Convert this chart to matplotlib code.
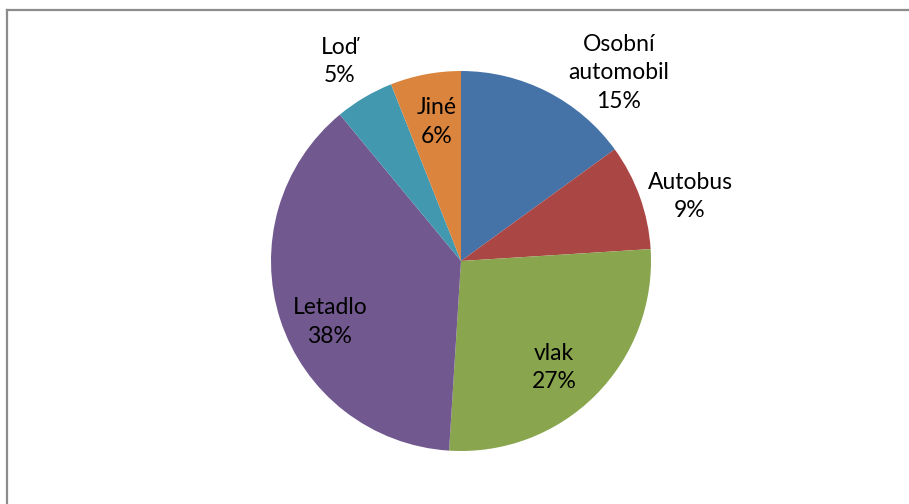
import matplotlib
matplotlib.use("Agg")
import matplotlib.pyplot as plt
from matplotlib.lines import Line2D

# data, clockwise from 12 o'clock
labels = ["Osobní\nautomobil", "Autobus", "vlak", "Letadlo", "Loď", "Jiné"]
shares = [15, 9, 27, 38, 5, 6]
colors = ["#4572A7", "#AA4643", "#89A54E", "#71588F", "#4198AF", "#DB843D"]

# label anchor points, in units of the pie radius
label_pos = [(0.83, 0.99), (1.205, 0.34), (0.49, -0.56),
             (-0.69, -0.32), (-0.64, 1.05), (-0.126, 0.73)]

W, H = 909, 504
fig = plt.figure(figsize=(W / 100, H / 100), dpi=100)

cx, cy, r = 461, 261, 190
ax = fig.add_axes([(cx - r) / W, (H - cy - r) / H, 2 * r / W, 2 * r / H])
ax.pie(shares, colors=colors, startangle=90, counterclock=False,
       radius=1, wedgeprops=dict(linewidth=0))
ax.set_xlim(-1, 1)
ax.set_ylim(-1, 1)
ax.set_aspect("equal")
ax.axis("off")

for lab, val, (x, y) in zip(labels, shares, label_pos):
    ax.text(x, y, f"{lab}\n{val}%", ha="center", va="center",
            fontsize=16.5, family="Lato", linespacing=1.45, clip_on=False)

# frame edges of the cropped chart area
fig.add_artist(Line2D([7 / W, 1], [1 - 10 / H, 1 - 10 / H],
                      color="#8c8c8c", lw=1.6, transform=fig.transFigure))
fig.add_artist(Line2D([7 / W, 7 / W], [0, 1 - 10 / H],
                      color="#8c8c8c", lw=1.6, transform=fig.transFigure))

fig.savefig("out.png", dpi=100, facecolor="white")
